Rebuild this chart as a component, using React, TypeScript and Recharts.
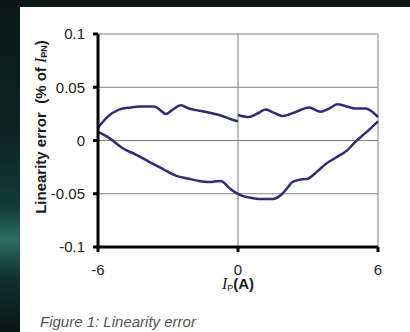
import React from "react";
import { LineChart, Line, XAxis, YAxis, CartesianGrid } from "recharts";

// upper branch, left half (ends at 0 with a small gap)
const upperLeftX = [-6, -5.6, -5.1, -4.6, -4.2, -3.6, -3.3, -3.1, -2.8, -2.45, -2.1, -1.67, -1.2, -0.67, -0.3, 0];
const upperLeftY = [0.012, 0.022, 0.029, 0.031, 0.032, 0.032, 0.028, 0.025, 0.029, 0.033, 0.03, 0.028, 0.026, 0.023, 0.02, 0.018];

// upper branch, right half
const upperRightX = [0, 0.47, 0.8, 1.19, 1.55, 1.9, 2.5, 3.04, 3.54, 3.9, 4.26, 4.65, 5.04, 5.47, 5.75, 6];
const upperRightY = [0.024, 0.022, 0.025, 0.029, 0.026, 0.023, 0.027, 0.031, 0.027, 0.03, 0.034, 0.032, 0.03, 0.03, 0.027, 0.022];

// lower branch
const lowerX = [-6, -5.5, -4.96, -4.4, -3.81, -3.2, -2.67, -2.1, -1.67, -1.24, -0.74, -0.4, -0.1, 0.19, 0.61, 1.0, 1.47, 1.9, 2.1, 2.33, 2.6, 2.97, 3.4, 3.76, 4.2, 4.69, 5.04, 5.3, 5.61, 6];
const lowerY = [0.008, 0.002, -0.007, -0.013, -0.02, -0.027, -0.033, -0.036, -0.038, -0.039, -0.038, -0.044, -0.049, -0.052, -0.054, -0.055, -0.055, -0.05, -0.045, -0.039, -0.037, -0.036, -0.029, -0.022, -0.016, -0.009, -0.001, 0.004, 0.01, 0.018];

const xTicks = [-6, 0, 6];
const yTicks = [-0.1, -0.05, 0, 0.05, 0.1];

const toPoints = (xs: number[], ys: number[]) => xs.map((x, i) => ({ x, y: ys[i] }));

const upperLeft = toPoints(upperLeftX, upperLeftY);
const upperRight = toPoints(upperRightX, upperRightY);
const lower = toPoints(lowerX, lowerY);

const SANS = '"Liberation Sans", Arial, sans-serif';
const SERIF = '"Liberation Serif", "Times New Roman", serif';
const LINE_COLOR = "#2c2e7a";

function YLabel() {
  return (
    <text
      x={40}
      y={127}
      transform="rotate(-90 40 127)"
      textAnchor="middle"
      dominantBaseline="central"
      fill="#1a1a1a"
      fontFamily={SANS}
      fontSize={15}
    >
      <tspan fontWeight="bold">Linearity error{"\u00a0\u00a0"}(% of </tspan>
      <tspan fontFamily={SERIF} fontStyle="italic" fontSize={16}>I</tspan>
      <tspan fontWeight="bold" fontSize={9} dy={4}>PN</tspan>
      <tspan fontWeight="bold" dy={-4}>)</tspan>
    </text>
  );
}

function XLabel() {
  return (
    <text x={238} y={289} textAnchor="middle" fill="#1a1a1a" fontFamily={SANS} fontSize={15}>
      <tspan fontFamily={SERIF} fontStyle="italic" fontSize={16}>I</tspan>
      <tspan fontSize={9} dy={2}>P</tspan>
      <tspan fontWeight="bold" dy={-2}>(A)</tspan>
    </text>
  );
}

export default function App() {
  return (
    <div
      style={{
        position: "fixed",
        left: 0,
        top: 0,
        width: 410,
        height: 332,
        overflow: "hidden",
        background:
          "linear-gradient(180deg, #0b1716 0%, #0e2321 40%, #123a34 62%, #2b6f60 72%, #10302b 84%, #0a1514 100%)",
        fontFamily: SANS,
      }}
    >
      <div style={{ position: "absolute", left: 20, top: 7, right: 0, bottom: 0, background: "#ffffff" }} />
      <div style={{ position: "absolute", left: 0, top: 0 }}>
        <LineChart width={410} height={332} margin={{ top: 34, right: 32, bottom: 55, left: 38 }}>
          <CartesianGrid stroke="#808080" strokeWidth={1} />
          <XAxis
            dataKey="x"
            type="number"
            domain={[-6, 6]}
            ticks={xTicks}
            interval={0}
            axisLine={{ stroke: "#000", strokeWidth: 3 }}
            tickLine={{ stroke: "#000", strokeWidth: 3 }}
            tickSize={5}
            tickMargin={12}
            tick={{ fontSize: 15, fill: "#222", fontFamily: SANS }}
            label={{ content: () => <XLabel /> }}
          />
          <YAxis
            type="number"
            domain={[-0.1, 0.1]}
            ticks={yTicks}
            interval={0}
            width={60}
            tickFormatter={(v: number) => String(v)}
            axisLine={{ stroke: "#000", strokeWidth: 3 }}
            tickLine={{ stroke: "#000", strokeWidth: 3 }}
            tickSize={5}
            tickMargin={8}
            tick={{ fontSize: 15, fill: "#222", fontFamily: SANS }}
            label={{ content: () => <YLabel /> }}
          />
          <Line data={upperLeft} dataKey="y" type="monotone" stroke={LINE_COLOR} strokeWidth={2.5} dot={false} isAnimationActive={false} />
          <Line data={upperRight} dataKey="y" type="monotone" stroke={LINE_COLOR} strokeWidth={2.5} dot={false} isAnimationActive={false} />
          <Line data={lower} dataKey="y" type="monotone" stroke={LINE_COLOR} strokeWidth={2.5} dot={false} isAnimationActive={false} />
        </LineChart>
      </div>
      <div
        style={{
          position: "absolute",
          left: 40,
          top: 313,
          fontSize: 15,
          fontStyle: "italic",
          color: "#555",
          whiteSpace: "nowrap",
        }}
      >
        Figure 1: Linearity error
      </div>
    </div>
  );
}
